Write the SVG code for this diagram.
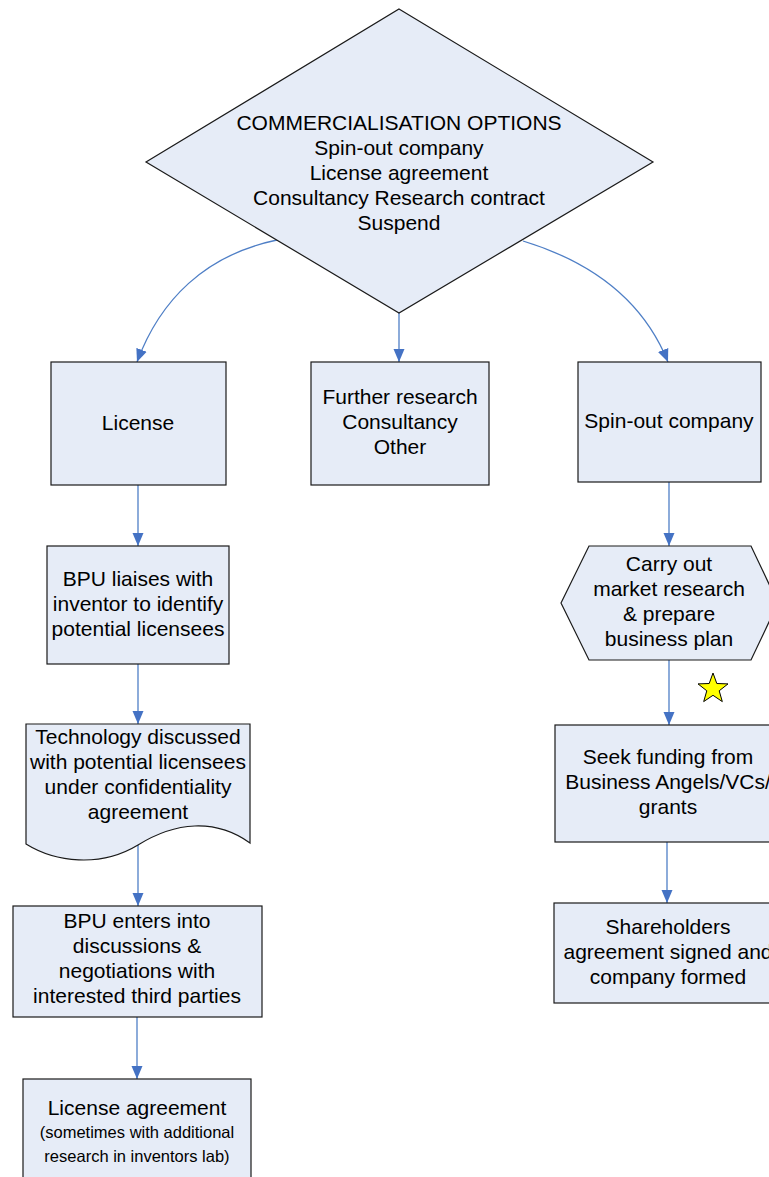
<svg xmlns="http://www.w3.org/2000/svg" width="769" height="1177" viewBox="0 0 769 1177">
<style>
.n{fill:#E6ECF7;stroke:#1a1a1a;stroke-width:1.2}
.c{fill:none;stroke:#4F7FC6;stroke-width:1.3}
.t{font-family:"Liberation Sans",Arial,sans-serif;font-size:21px;fill:#000;text-anchor:middle}
.s{font-family:"Liberation Sans",Arial,sans-serif;font-size:16.5px;fill:#000;text-anchor:middle}
</style>
<defs>
<marker id="a" markerUnits="userSpaceOnUse" markerWidth="14" markerHeight="14" viewBox="0 0 14 14" refX="13" refY="7" orient="auto">
<path d="M0,1.5 L13,7 L0,12.5 Z" fill="#4472C4"/>
</marker>
</defs>
<rect width="769" height="1177" fill="#fff"/>
<g id="connectors">
<path class="c" d="M277,240 C205,255 160,300 137,362" marker-end="url(#a)"/>
<path class="c" d="M399,313 V362" marker-end="url(#a)"/>
<path class="c" d="M523,241 C592,262 643,300 668,362" marker-end="url(#a)"/>
<path class="c" d="M138,485 V546" marker-end="url(#a)"/>
<path class="c" d="M138,664 V724" marker-end="url(#a)"/>
<path class="c" d="M138,845 V906" marker-end="url(#a)"/>
<path class="c" d="M137,1017 V1079" marker-end="url(#a)"/>
<path class="c" d="M669,482 V546" marker-end="url(#a)"/>
<path class="c" d="M669,660 V725" marker-end="url(#a)"/>
<path class="c" d="M667,842 V903" marker-end="url(#a)"/>
</g>
<g id="options">
<polygon class="n" points="399,9 653,162 399,313 146,162"/>
<text class="t" x="399" y="130">COMMERCIALISATION OPTIONS</text>
<text class="t" x="399" y="155">Spin-out company</text>
<text class="t" x="399" y="180">License agreement</text>
<text class="t" x="399" y="205">Consultancy Research contract</text>
<text class="t" x="399" y="230">Suspend</text>
</g>
<g id="license">
<rect class="n" x="51" y="362" width="175" height="123"/>
<text class="t" x="138" y="430">License</text>
</g>
<g id="further">
<rect class="n" x="311" y="362" width="178" height="123"/>
<text class="t" x="400" y="404">Further research</text>
<text class="t" x="400" y="429">Consultancy</text>
<text class="t" x="400" y="454">Other</text>
</g>
<g id="spinout">
<rect class="n" x="578" y="362" width="183" height="120"/>
<text class="t" x="669" y="428">Spin-out company</text>
</g>
<g id="bpu-liaises">
<rect class="n" x="47" y="546" width="182" height="118"/>
<text class="t" x="138" y="586">BPU liaises with</text>
<text class="t" x="138" y="611">inventor to identify</text>
<text class="t" x="138" y="636">potential licensees</text>
</g>
<g id="technology">
<path class="n" d="M26,724 H250 V843 C215,818 175,822 138,845 C100,868 55,862 26,844 Z"/>
<text class="t" x="138" y="744">Technology discussed</text>
<text class="t" x="138" y="769">with potential licensees</text>
<text class="t" x="138" y="794">under confidentiality</text>
<text class="t" x="138" y="819">agreement</text>
</g>
<g id="bpu-enters">
<rect class="n" x="13" y="906" width="249" height="111"/>
<text class="t" x="137" y="928">BPU enters into</text>
<text class="t" x="137" y="953">discussions &amp;</text>
<text class="t" x="137" y="978">negotiations with</text>
<text class="t" x="137" y="1003">interested third parties</text>
</g>
<g id="license-agreement">
<rect class="n" x="23" y="1079" width="228" height="110"/>
<text class="t" x="137" y="1115">License agreement</text>
<text class="s" x="137" y="1138">(sometimes with additional</text>
<text class="s" x="137" y="1162">research in inventors lab)</text>
</g>
<g id="market-research">
<polygon class="n" points="589,546 751,546 778,603 751,660 589,660 561,603"/>
<text class="t" x="669" y="571">Carry out</text>
<text class="t" x="669" y="596">market research</text>
<text class="t" x="669" y="621">&amp; prepare</text>
<text class="t" x="669" y="646">business plan</text>
</g>
<g id="star">
<polygon points="713,673 716.8,683.5 728,683.9 719.2,690.8 722.3,701.6 713,695.3 703.7,701.6 706.8,690.8 698,683.9 709.2,683.5" fill="#FFFF00" stroke="#000" stroke-width="1"/>
</g>
<g id="funding">
<rect class="n" x="555" y="725" width="228" height="117"/>
<text class="t" x="668" y="764">Seek funding from</text>
<text class="t" x="668" y="789">Business Angels/VCs/</text>
<text class="t" x="668" y="814">grants</text>
</g>
<g id="shareholders">
<rect class="n" x="554" y="903" width="228" height="100"/>
<text class="t" x="668" y="934">Shareholders</text>
<text class="t" x="668" y="959">agreement signed and</text>
<text class="t" x="668" y="984">company formed</text>
</g>
</svg>
